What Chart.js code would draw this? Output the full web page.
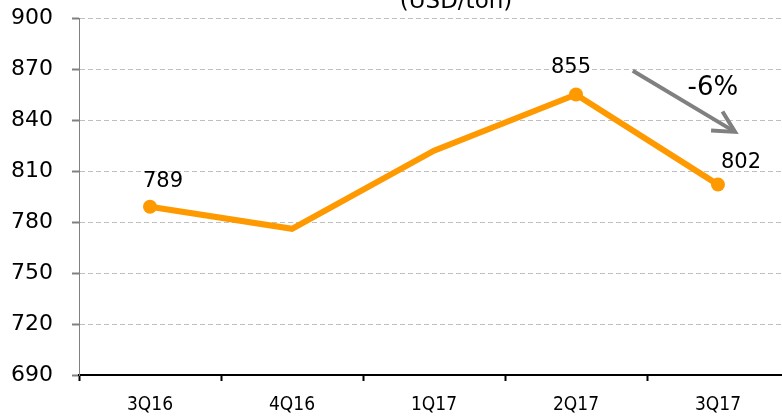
<!DOCTYPE html>
<html>
<head>
<meta charset="utf-8">
<script src="https://cdn.jsdelivr.net/npm/chart.js@4"></script>
<style>
  html, body { margin: 0; padding: 0; background: #fff; overflow: hidden; }
  #wrap { width: 796px; height: 420px; }
</style>
</head>
<body>
<div id="wrap"><canvas id="chart" width="796" height="420"></canvas></div>
<script>
'use strict';

var quarters = ['3Q16', '4Q16', '1Q17', '2Q17', '3Q17'];
var prices = [789, 776, 822, 855, 802];
var labelled = [true, false, false, true, true];
var yTicks = [690, 720, 750, 780, 810, 840, 870, 900];
var unitTitle = '(USD/ton)';
var changeText = '-6%';
// arrow from / to, in category index and price
var arrowFrom = [3.4, 869];
var arrowTo = [4.12, 833];

var orange = '#FF9900';

var extras = {
    id: 'extras',
    afterDatasetsDraw: function(chart) {
        var ctx = chart.ctx;
        var xs = chart.scales.x, ys = chart.scales.y;
        var area = chart.chartArea;
        var meta = chart.getDatasetMeta(0);
        var shifts = [[13, -25], [0, -25], [0, -25], [-5, -27], [23, -22]];

        ctx.save();
        ctx.fillStyle = '#000';
        ctx.textAlign = 'center';
        ctx.textBaseline = 'middle';
        ctx.font = '21px "DejaVu Sans", Verdana, sans-serif';
        meta.data.forEach(function(pt, i) {
            if (!labelled[i]) return;
            ctx.fillText(String(prices[i]), pt.x + shifts[i][0], pt.y + shifts[i][1]);
        });

        // title, cut off by the top edge
        ctx.font = '23px "DejaVu Sans", Verdana, sans-serif';
        ctx.textBaseline = 'alphabetic';
        ctx.fillText(unitTitle, (area.left + area.right) / 2 + 22, area.top - 10);

        // trend arrow
        var x1 = xs.getPixelForValue(arrowFrom[0]), y1 = ys.getPixelForValue(arrowFrom[1]);
        var x2 = xs.getPixelForValue(arrowTo[0]), y2 = ys.getPixelForValue(arrowTo[1]);
        var ang = Math.atan2(y2 - y1, x2 - x1);
        ctx.strokeStyle = '#808080';
        ctx.lineWidth = 4;
        ctx.lineCap = 'butt';
        ctx.lineJoin = 'miter';
        ctx.beginPath();
        ctx.moveTo(x1, y1);
        ctx.lineTo(x2 - 2 * Math.cos(ang), y2 - 2 * Math.sin(ang));
        ctx.stroke();
        ctx.beginPath();
        ctx.moveTo(x2 - 24 * Math.cos(ang - 0.48), y2 - 24 * Math.sin(ang - 0.48));
        ctx.lineTo(x2, y2);
        ctx.lineTo(x2 - 24 * Math.cos(ang + 0.48), y2 - 24 * Math.sin(ang + 0.48));
        ctx.stroke();

        ctx.fillStyle = '#000';
        ctx.font = '26px "DejaVu Sans", Verdana, sans-serif';
        ctx.textBaseline = 'middle';
        ctx.fillText(changeText, (x1 + x2) / 2 + 29, (y1 + y2) / 2 - 13);
        ctx.restore();
    }
};

new Chart(document.getElementById('chart'), {
    type: 'line',
    data: {
        labels: quarters,
        datasets: [{
            data: prices,
            borderColor: orange,
            backgroundColor: orange,
            borderWidth: 6,
            pointRadius: labelled.map(function(v) { return v ? 7 : 0; }),
            pointBorderWidth: 0,
            pointBackgroundColor: orange,
            tension: 0,
            clip: false
        }]
    },
    options: {
        responsive: false,
        animation: false,
        layout: { padding: { top: 18, right: 1, left: 0, bottom: 0 } },
        plugins: {
            legend: { display: false },
            tooltip: { enabled: false }
        },
        scales: {
            x: {
                offset: true,
                grid: {
                    offset: true,
                    drawOnChartArea: false,
                    tickLength: 6,
                    tickColor: '#000',
                    tickWidth: 2
                },
                border: { color: '#000', width: 2 },
                ticks: {
                    color: '#000',
                    padding: 13,
                    maxRotation: 0,
                    font: { family: '"DejaVu Sans Condensed", sans-serif', size: 19 }
                },
                afterFit: function(s) {
                    s.height = 45;
                    s.paddingLeft = 0;
                    s.paddingRight = 0;
                }
            },
            y: {
                min: yTicks[0],
                max: yTicks[yTicks.length - 1],
                afterBuildTicks: function(s) {
                    s.ticks = yTicks.map(function(v) { return { value: v }; });
                },
                grid: {
                    color: '#BFBFBF',
                    lineWidth: 1,
                    tickLength: 7,
                    tickColor: '#808080',
                    tickBorderDash: [],
                    tickWidth: 2
                },
                border: { color: '#808080', width: 1, dash: [5, 3] },
                ticks: {
                    color: '#000',
                    padding: 19,
                    font: { family: '"DejaVu Sans", Verdana, sans-serif', size: 22 }
                },
                afterFit: function(s) {
                    s.width = 79;
                    s.paddingTop = 0;
                    s.paddingBottom = 0;
                }
            }
        }
    },
    plugins: [extras]
});
</script>
</body>
</html>
